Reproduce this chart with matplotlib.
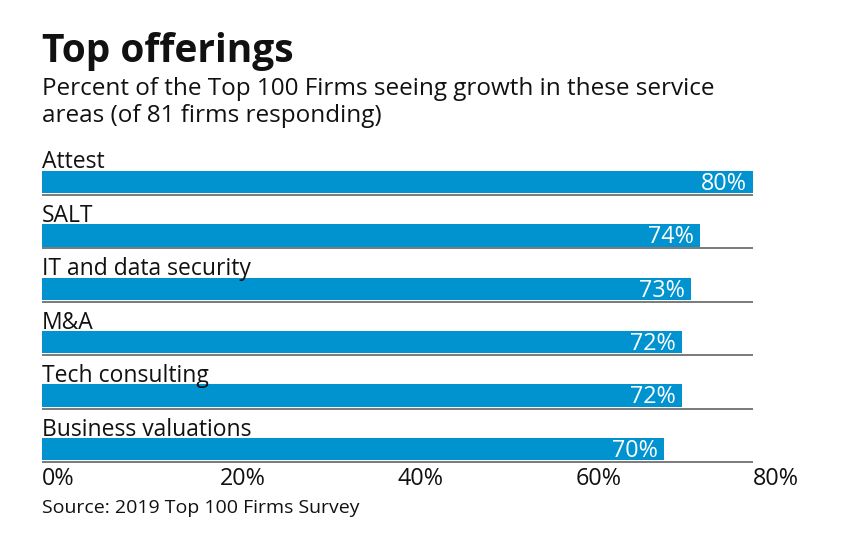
import matplotlib.pyplot as plt

categories = ["Attest", "SALT", "IT and data security", "M&A",
              "Tech consulting", "Business valuations"]
values = [80, 74, 73, 72, 72, 70]
ticks = [0, 20, 40, 60, 80]
tick_labels = ["0%", "20%", "40%", "60%", "80%"]

plt.rcParams['font.family'] = ['Open Sans', 'DejaVu Sans']

W, H = 844, 550
fig = plt.figure(figsize=(W / 100, H / 100), dpi=100)

# axes placed in pixel terms: x 0..80 spans 42..753 px, rows 53.4 px apart
x0, x1 = 42, 753
top_px, bot_px = 140, 470
first_c, pitch = 182, 53.4
ax = fig.add_axes([x0 / W, 1 - bot_px / H, (x1 - x0) / W, (bot_px - top_px) / H])
ax.set_xlim(0, 80)
ax.set_ylim((bot_px - first_c) / pitch, (top_px - first_c) / pitch)
ax.axis('off')

bar_h = 22.5 / pitch
for i, (cat, v) in enumerate(zip(categories, values)):
    ax.barh(i, v, height=bar_h, color='#0093d0', edgecolor='none')
    ax.plot([0, 80], [i + 13 / pitch, i + 13 / pitch], color='#707070', lw=1.3,
            solid_capstyle='butt')
    ax.text(0, i - 13.5 / pitch, cat, ha='left', va='baseline', fontsize=16.5,
            color='#111111')
    ax.text(v - 0.7, i + 7.8 / pitch, f"{v}%", ha='right', va='baseline',
            fontsize=16.8, color='white')

for t, lab in zip(ticks, tick_labels):
    ax.text(t, (485 - first_c) / pitch, lab, ha='left', va='baseline',
            fontsize=16.8, color='#111111')

fig.text(42 / W, 1 - 62 / H, "Top offerings", fontsize=28, fontweight='bold',
         ha='left', va='baseline', color='#111111')
fig.text(42 / W, 1 - 95 / H, "Percent of the Top 100 Firms seeing growth in these service",
         fontsize=17.5, ha='left', va='baseline', color='#111111')
fig.text(42 / W, 1 - 122 / H, "areas (of 81 firms responding)",
         fontsize=17.5, ha='left', va='baseline', color='#111111')
fig.text(42 / W, 1 - 513 / H, "Source: 2019 Top 100 Firms Survey",
         fontsize=14, ha='left', va='baseline', color='#111111')

fig.savefig('out.png', dpi=100)
